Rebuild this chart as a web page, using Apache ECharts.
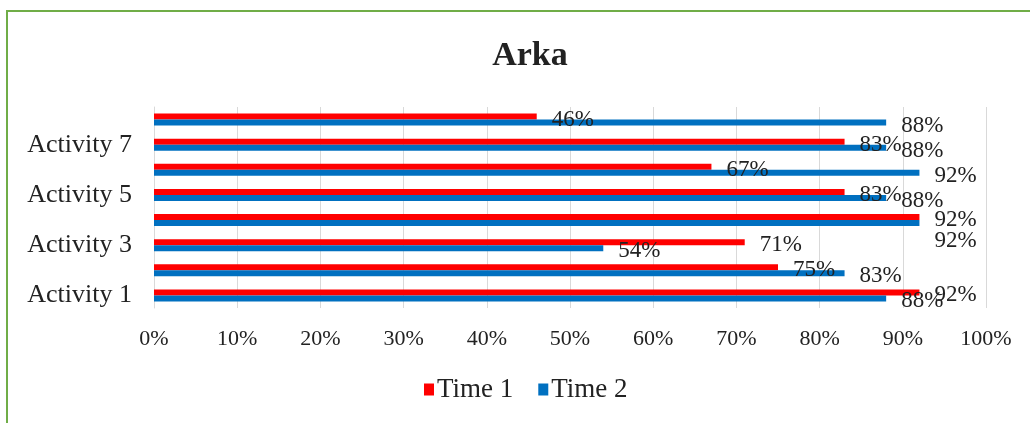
<!DOCTYPE html>
<html>
<head>
<meta charset="utf-8">
<script src="https://cdn.jsdelivr.net/npm/echarts@6/dist/echarts.min.js"></script>
<style>
  html, body { margin: 0; padding: 0; background: #fff; }
  .frame {
    position: absolute; left: 6px; top: 10px; right: -10px; bottom: -10px;
    border-left: 2.5px solid #70ad47; border-top: 2.5px solid #70ad47;
  }
  #chart { position: absolute; left: 0; top: 0; width: 1030px; height: 423px; }
</style>
</head>
<body>
<div class="frame"></div>
<div id="chart"></div>
<script>
  // data
  var categories = ['Activity 1', 'Activity 2', 'Activity 3', 'Activity 4',
                    'Activity 5', 'Activity 6', 'Activity 7', 'Activity 8']
  var time1 = [92, 75, 71, 92, 83, 67, 83, 46]
  var time2 = [88, 83, 54, 92, 88, 92, 88, 88]
  var xTicks = [0, 10, 20, 30, 40, 50, 60, 70, 80, 90, 100]

  var serif = '"Liberation Serif", "Times New Roman", serif'
  var textColor = '#222'

  var myChart = echarts.init(document.getElementById('chart'))

  // excel nudged one overlapping label further down
  var time2Data = time2.map(function (v, i) {
    if (i === 3) return { value: v, label: { offset: [0, 18] } }
    return v
  })

  function barLabel () {
    return {
      show: true,
      position: 'right',
      distance: 15,
      offset: [0, 3],
      color: textColor,
      fontFamily: serif,
      fontSize: 23,
      formatter: '{c}%'
    }
  }

  myChart.setOption({
    animation: false,
    title: {
      text: 'Arka',
      left: 525,
      top: 34,
      textAlign: 'center',
      textStyle: {
        fontFamily: serif,
        fontWeight: 'bold',
        fontSize: 34,
        color: textColor
      }
    },
    legend: {
      data: ['Time 1', 'Time 2'],
      left: 424,
      top: 376,
      padding: 0,
      itemWidth: 10,
      itemHeight: 12,
      itemGap: 25,
      icon: 'rect',
      textStyle: {
        fontFamily: serif,
        fontSize: 27,
        color: textColor,
        padding: [0, 0, 0, -2]
      }
    },
    grid: {
      left: 154,
      right: 44,
      top: 107,
      bottom: 115,
      containLabel: false
    },
    xAxis: {
      type: 'value',
      min: xTicks[0],
      max: xTicks[xTicks.length - 1],
      interval: 10,
      axisLine: { show: false },
      axisTick: { show: false },
      splitLine: { lineStyle: { color: '#d9d9d9', width: 1 } },
      axisLabel: {
        margin: 20,
        color: textColor,
        fontFamily: serif,
        fontSize: 22,
        formatter: '{value}%'
      }
    },
    yAxis: {
      type: 'category',
      data: categories,
      axisTick: { show: false },
      axisLine: { show: true, lineStyle: { color: '#d9d9d9' } },
      axisLabel: {
        interval: 1,
        margin: 22,
        color: textColor,
        fontFamily: serif,
        fontSize: 26
      }
    },
    series: [{
      name: 'Time 1',
      type: 'bar',
      barWidth: 6,
      barGap: '0%',
      itemStyle: { color: '#ff0000' },
      label: barLabel(),
      data: time1
    }, {
      name: 'Time 2',
      type: 'bar',
      barWidth: 6,
      barGap: '0%',
      itemStyle: { color: '#0070c0' },
      label: barLabel(),
      data: time2Data
    }]
  })
</script>
</body>
</html>
